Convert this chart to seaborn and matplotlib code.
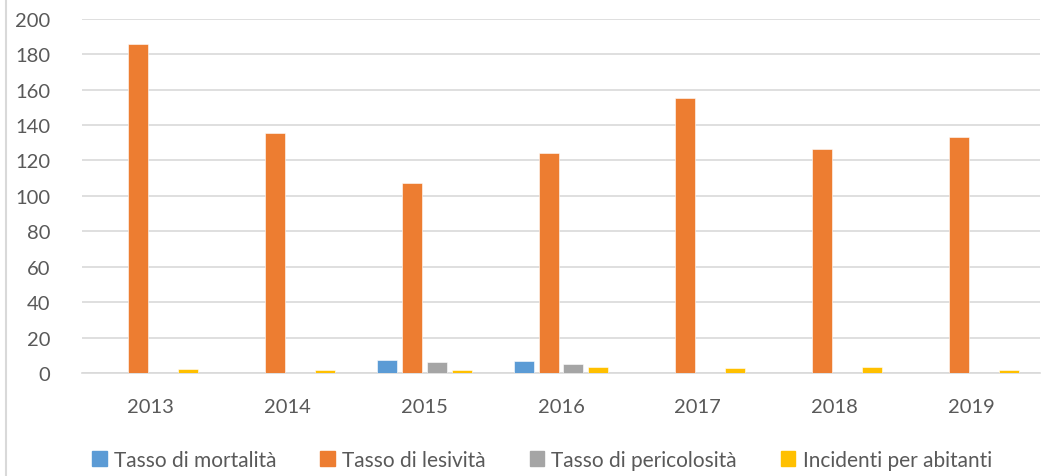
import pandas as pd
import seaborn as sns
import matplotlib.pyplot as plt
from matplotlib.lines import Line2D

years = ["2013", "2014", "2015", "2016", "2017", "2018", "2019"]
mortalita = [0, 0, 7.3, 7.0, 0, 0, 0]
lesivita = [185.7, 135.5, 107.0, 124.0, 155.5, 126.5, 133.0]
pericolosita = [0, 0, 6.2, 5.3, 0, 0, 0]
incidenti = [2.3, 1.6, 1.7, 3.2, 2.9, 3.4, 1.9]

series = ["Tasso di mortalità", "Tasso di lesività",
          "Tasso di pericolosità", "Incidenti per abitanti"]
colors = ["#5B9BD5", "#ED7D31", "#A5A5A5", "#FFC000"]

df = pd.DataFrame({"Anno": years * 4,
                   "Serie": [s for s in series for _ in years],
                   "Valore": mortalita + lesivita + pericolosita + incidenti})

sns.set_style("white")
plt.rcParams['font.family'] = ['Lato', 'DejaVu Sans']
txt = "#595959"

fig = plt.figure(figsize=(10.6, 4.77), dpi=100)
ax = fig.add_axes([82 / 1060, 1 - 374 / 477, (1040 - 82) / 1060, (374 - 19.7) / 477])

sns.barplot(data=df, x="Anno", y="Valore", hue="Serie", hue_order=series,
            palette=colors, saturation=1, width=0.73, gap=0.2, ax=ax, legend=False,
            edgecolor="white", linewidth=0.4, zorder=3)

ax.set_ylim(0, 200)
ax.set_yticks(range(0, 201, 20))
ax.set_xlim(-0.5, len(years) - 0.5)
ax.yaxis.grid(True, color="#d9d9d9", linewidth=1.2, zorder=0)
ax.set_axisbelow(True)
for s in ["top", "right", "left"]:
    ax.spines[s].set_visible(False)
ax.spines["bottom"].set_color("#d9d9d9")
ax.spines["bottom"].set_linewidth(1.2)
ax.tick_params(axis="y", length=0, pad=23, labelsize=14.5, labelcolor=txt)
ax.tick_params(axis="x", length=0, pad=18, labelsize=14.5, labelcolor=txt)
ax.set_xlabel("")
ax.set_ylabel("")

handles = [plt.Rectangle((0, 0), 1, 1, color=c) for c in colors]
fig.legend(handles, series, loc="center", bbox_to_anchor=(542 / 1060, 1 - 461 / 477),
           ncol=4, frameon=False, fontsize=15, labelcolor=txt,
           handlelength=0.7, handleheight=0.7, handletextpad=0.35, columnspacing=2.1)

# left chart border
fig.add_artist(Line2D([6 / 1060, 6 / 1060], [0, 1], color="#d9d9d9", linewidth=1.5))

fig.savefig("out.png", dpi=100)
